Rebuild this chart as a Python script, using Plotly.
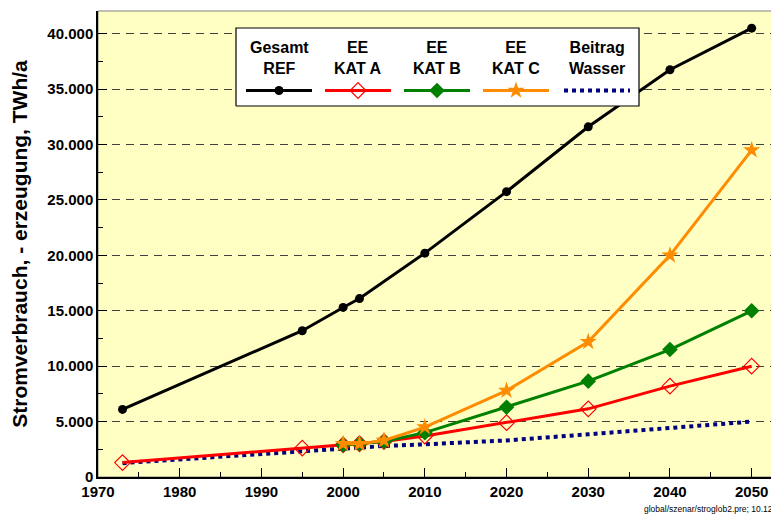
import plotly.graph_objects as go

# ---------------- data ----------------
years_ref = [1973, 1995, 2000, 2002, 2010, 2020, 2030, 2040, 2050]
gesamt_ref = [6100, 13200, 15300, 16100, 20200, 25750, 31600, 36750, 40500]

years_a = [1973, 1995, 2000, 2002, 2005, 2010, 2020, 2030, 2040, 2050]
kat_a = [1300, 2600, 2900, 3000, 3200, 3700, 4900, 6150, 8200, 10000]

years_bc = [2000, 2002, 2005, 2010, 2020, 2030, 2040, 2050]
kat_b = [2900, 3000, 3200, 4000, 6300, 8650, 11500, 15000]
kat_c = [3000, 3000, 3300, 4500, 7800, 12200, 20000, 29500]

years_w = [1973, 2000, 2005, 2010, 2020, 2030, 2040, 2050]
wasser = [1250, 2600, 2800, 2950, 3300, 3850, 4450, 5000]

legend_names = ["Gesamt<br>REF", "EE<br>KAT A", "EE<br>KAT B", "EE<br>KAT C", "Beitrag<br>Wasser"]
y_title = "Stromverbrauch, - erzeugung, TWh/a"
footnote = "global/szenar/stroglob2.pre; 10.12.04"

# ---------------- styles ----------------
OFF = 8  # page body margin
W, H = 779 - OFF, 516 - OFF
ML, MR, MT, MB = 98 - OFF, 2, 11 - OFF, 39
FONT = "Arial, Liberation Sans, sans-serif"
BLACK, RED, GREEN, ORANGE, NAVY = "#000000", "#FF0000", "#008000", "#FF8C00", "#000080"

styles = [
    dict(line=dict(color=BLACK, width=3), marker=dict(symbol="circle", size=9, color=BLACK)),
    dict(line=dict(color=RED, width=3), marker=dict(symbol="diamond-open", size=12, color=RED, line=dict(width=1.2))),
    dict(line=dict(color=GREEN, width=3), marker=dict(symbol="diamond", size=12, color=GREEN)),
    dict(line=dict(color=ORANGE, width=3), marker=dict(symbol="star", size=13, color=ORANGE)),
    dict(line=dict(color=NAVY, width=4, dash="dot"), marker=dict(size=1)),
]

fig = go.Figure()

series = [
    (years_ref, gesamt_ref, 0, "lines+markers"),
    (years_w, wasser, 4, "lines"),
    (years_a, kat_a, 1, "lines+markers"),
    (years_bc, kat_b, 2, "lines+markers"),
    (years_bc, kat_c, 3, "lines+markers"),
]
for xs, ys, si, mode in series:
    st = styles[si]
    fig.add_trace(go.Scatter(x=xs, y=ys, mode=mode, line=st["line"], marker=st["marker"],
                             showlegend=False, cliponaxis=False, hoverinfo="skip"))

# ------------- custom legend on an overlay axis (screen-pixel based) -------------
pw = W - ML - MR
ph = H - MT - MB


def px_x(p):
    return (p - OFF - ML) / pw


def px_y(p):
    return (H - MB - (p - OFF)) / ph


bx0, bx1, by0, by1 = px_x(236), px_x(639), px_y(106), px_y(28)
fig.add_trace(go.Scatter(x=[bx0, bx1, bx1, bx0, bx0], y=[by0, by0, by1, by1, by0],
                         mode="lines", fill="toself", fillcolor="white",
                         line=dict(color="black", width=1.2),
                         xaxis="x2", yaxis="y2", showlegend=False, hoverinfo="skip"))

centers = [279, 358, 437, 516, 597]
half = 33
ly = px_y(90.5)
for i, c in enumerate(centers):
    st = styles[i]
    fig.add_trace(go.Scatter(x=[px_x(c - half), px_x(c + half)], y=[ly, ly], mode="lines",
                             line=st["line"], xaxis="x2", yaxis="y2",
                             showlegend=False, hoverinfo="skip"))
    if i < 4:
        fig.add_trace(go.Scatter(x=[px_x(c)], y=[ly], mode="markers", marker=st["marker"],
                                 xaxis="x2", yaxis="y2", showlegend=False, hoverinfo="skip"))
    fig.add_annotation(x=px_x(c), y=px_y(57.5), xref="x2", yref="y2", text="<b>" + legend_names[i] + "</b>",
                       showarrow=False, font=dict(family=FONT, size=16, color="black"),
                       xanchor="center", yanchor="middle", align="center")

# footnote
fig.add_annotation(x=px_x(642), y=px_y(509), xref="paper", yref="paper",
                   text=footnote, showarrow=False, xanchor="left", yanchor="middle",
                   font=dict(family=FONT, size=8.5, color="black"))

# plot area border (top/right grey)
fig.add_shape(type="rect", xref="paper", yref="paper", x0=0, x1=1, y0=0, y1=1,
              line=dict(color="#808080", width=1), layer="below")

fig.update_layout(
    width=W, height=H,
    margin=dict(l=ML, r=MR, t=MT, b=MB),
    paper_bgcolor="white",
    plot_bgcolor="#FFFFC4",
    separators=",.",
    font=dict(family=FONT, color="black"),
    xaxis=dict(range=[1970, 2053.1], dtick=10, tick0=1970, ticks="inside", ticklen=9,
               tickcolor="black", showgrid=False, zeroline=False,
               showline=True, linecolor="black", linewidth=1.5,
               tickfont=dict(family=FONT, size=15, color="black"),
               tickprefix="<b>", ticksuffix="</b>",
               minor=dict(dtick=5, ticks="inside", ticklen=5, tickcolor="black")),
    yaxis=dict(range=[0, 42050], dtick=5000, ticks="inside", ticklen=9, tickcolor="black",
               tickformat=",d", showgrid=True, gridcolor="#404040", griddash="8px,6px", gridwidth=1,
               zeroline=False, showline=True, linecolor="black", linewidth=1.5,
               tickfont=dict(family=FONT, size=15, color="black"),
               tickprefix="<b>", ticksuffix="</b>",
               minor=dict(dtick=2500, ticks="inside", ticklen=5, tickcolor="black"),
               title=dict(text="<b>" + y_title + "</b>", font=dict(family=FONT, size=21, color="black"),
                          standoff=14)),
    xaxis2=dict(range=[0, 1], overlaying="x", visible=False, fixedrange=True),
    yaxis2=dict(range=[0, 1], overlaying="y", visible=False, fixedrange=True),
)

fig.write_html("out.html")
